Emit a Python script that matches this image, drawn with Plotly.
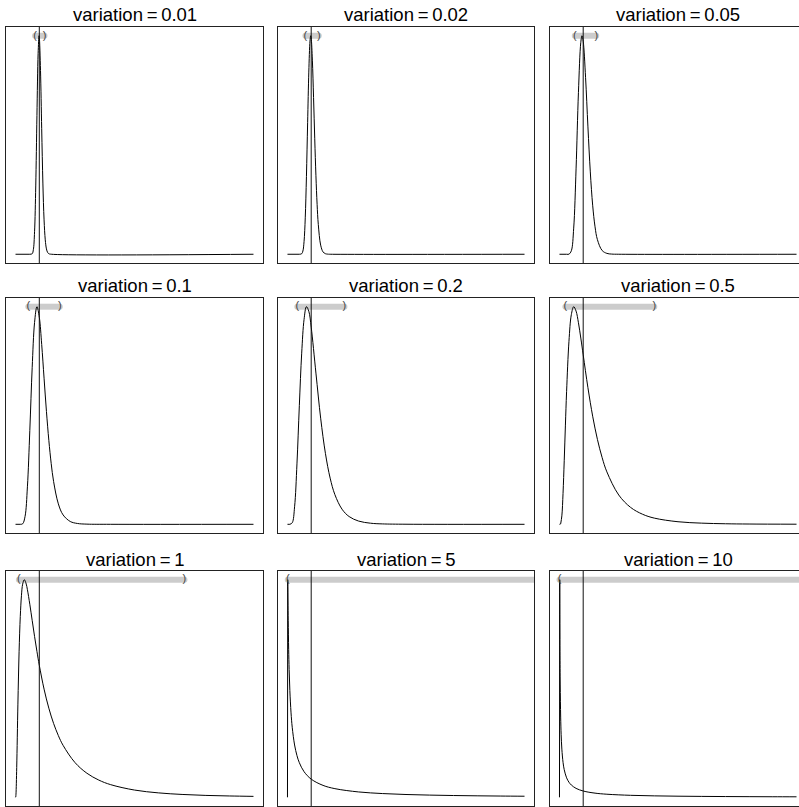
import plotly.graph_objects as go

# ---------------- data (read / estimated from the reference) ----------------
variations = ["0.01", "0.02", "0.05", "0.1", "0.2", "0.5", "1", "5", "10"]

x_v001 = [0, 0.6, 0.7, 0.75, 0.8, 0.85, 0.9, 0.95, 0.99, 1.0, 1.05, 1.1, 1.15, 1.2, 1.25, 1.3, 1.35, 1.4, 1.5, 10]
y_v001 = [0, 0, 0.0099, 0.0848, 0.4137, 1.253, 2.545, 3.682, 4.009, 3.989, 3.373, 2.303, 1.3065, 0.631, 0.2648, 0.0983, 0.0327, 0.0099, 0.0006, 0]

x_v002 = [0, 0.5, 0.6, 0.65, 0.7, 0.75, 0.8, 0.85, 0.9, 0.95, 0.98, 1.0, 1.05, 1.1, 1.15, 1.2, 1.25, 1.3, 1.4, 1.5, 1.6, 1.7, 1.8, 10]
y_v002 = [0, 0, 0.0069, 0.0419, 0.1676, 0.4751, 1.0156, 1.7148, 2.375, 2.780, 2.849, 2.821, 2.531, 2.043, 1.5054, 1.024, 0.650, 0.3882, 0.1189, 0.0308, 0.0071, 0.0015, 0.0003, 0]

x_v005 = [0, 0.3, 0.4, 0.5, 0.6, 0.7, 0.8, 0.9, 0.95, 1.0, 1.1, 1.2, 1.3, 1.4, 1.5, 1.6, 1.8, 2.0, 2.2, 2.5, 10]
y_v005 = [0, 0, 0.0010, 0.0292, 0.2189, 0.7144, 1.3555, 1.774, 1.8293, 1.7841, 1.4812, 1.0663, 0.6895, 0.4109, 0.2298, 0.1224, 0.0313, 0.0073, 0.0016, 0.0002, 0]

x_v01 = [0, 0.2, 0.3, 0.4, 0.5, 0.6, 0.7, 0.8, 0.9, 1.0, 1.1, 1.2, 1.3, 1.4, 1.5, 1.6, 1.8, 2.0, 2.3, 2.6, 3.0, 4.0, 10]
y_v01 = [0, 0, 0.0030, 0.0474, 0.2284, 0.5704, 0.9541, 1.2294, 1.3260, 1.2616, 1.0960, 0.8903, 0.6878, 0.5117, 0.3697, 0.2613, 0.1245, 0.0571, 0.0171, 0.0051, 0.0010, 0, 0]

x_v02 = [0, 0.1, 0.2, 0.3, 0.4, 0.5, 0.6, 0.7, 0.8, 0.9, 1.0, 1.2, 1.4, 1.6, 1.8, 2.0, 2.3, 2.6, 3.0, 3.5, 4.0, 5.0, 10]
y_v02 = [0, 0, 0.0069, 0.0793, 0.2734, 0.5367, 0.7743, 0.9272, 0.9845, 0.9640, 0.8921, 0.6841, 0.4801, 0.3210, 0.2089, 0.1342, 0.0685, 0.0350, 0.0146, 0.0050, 0.0018, 0.0003, 0]

x_v05 = [0, 0.05, 0.1, 0.15, 0.2, 0.25, 0.3, 0.4, 0.5, 0.6, 0.7, 0.8, 0.9, 1.0, 1.2, 1.4, 1.6, 1.8, 2.0, 2.5, 3.0, 3.5, 4.0, 5.0, 6.0, 7.0, 8.0, 10]
y_v05 = [0, 0.0014, 0.0281, 0.1028, 0.2115, 0.3302, 0.4414, 0.6092, 0.6979, 0.7244, 0.7098, 0.6710, 0.6200, 0.5642, 0.4548, 0.3599, 0.2827, 0.2219, 0.1745, 0.0975, 0.0563, 0.0336, 0.0206, 0.0085, 0.0038, 0.0018, 0.0009, 0.0003]

x_v1 = [0, 0.01, 0.02, 0.05, 0.1, 0.15, 0.2, 0.25, 0.3, 0.37, 0.45, 0.5, 0.6, 0.7, 0.8, 0.9, 1.0, 1.2, 1.4, 1.6, 1.8, 2.0, 2.5, 3.0, 3.5, 4.0, 5.0, 6.0, 7.0, 8.0, 9.0, 10]
y_v1 = [0, 0.0010, 0.0095, 0.0898, 0.2816, 0.4399, 0.5463, 0.6106, 0.6442, 0.6577, 0.6445, 0.6275, 0.5836, 0.5348, 0.4864, 0.4408, 0.3989, 0.3270, 0.2693, 0.2233, 0.1865, 0.1569, 0.1049, 0.0727, 0.0520, 0.0382, 0.0219, 0.0134, 0.0086, 0.0057, 0.0040, 0.0028]

x_v5 = [0, 0.01, 0.02, 0.03, 0.05, 0.07, 0.1, 0.15, 0.2, 0.3, 0.4, 0.5, 0.7, 1.0, 1.5, 2, 3, 4, 5, 6, 7, 8, 9, 10]
y_v5 = [0, 2.139, 1.930, 1.739, 1.4545, 1.2567, 1.050, 0.8298, 0.6885, 0.5144, 0.4101, 0.3401, 0.2517, 0.1784, 0.1170, 0.0850, 0.0527, 0.0368, 0.0275, 0.0216, 0.0175, 0.0145, 0.0122, 0.0105]

x_v10 = [0, 0.01, 0.02, 0.03, 0.05, 0.07, 0.1, 0.15, 0.2, 0.3, 0.4, 0.5, 0.7, 1.0, 1.5, 2, 3, 4, 5, 6, 7, 8, 9, 10]
y_v10 = [0, 4.369, 2.934, 2.274, 1.611, 1.2655, 0.9677, 0.7025, 0.5542, 0.3911, 0.3024, 0.2463, 0.1791, 0.1262, 0.0834, 0.0616, 0.0396, 0.0287, 0.0222, 0.0179, 0.0149, 0.0127, 0.0110, 0.0097]

# interval shown by the grey bar at the top of each panel
ci_low = [0.822, 0.758, 0.645, 0.538, 0.416, 0.250, 0.141, 0.0125, 0.0020]
ci_high = [1.217, 1.319, 1.550, 1.859, 2.402, 4.000, 7.099, 80.06, 491.0]

ref_line_x = 1.0  # vertical reference line

curves_x = [x_v001, x_v002, x_v005, x_v01, x_v02, x_v05, x_v1, x_v5, x_v10]
curves_y = [y_v001, y_v002, y_v005, y_v01, y_v02, y_v05, y_v1, y_v5, y_v10]

# ---------------- layout geometry (pixels) ----------------
W, H = 799, 807
col_px = [(6, 263), (278, 534), (550, 806)]
row_px = [(27, 263), (298, 533), (571, 806)]
XMIN, XMAX = 0.0, 10.0
PAD = 0.04
FONT = "Liberation Sans, Arial, Helvetica, sans-serif"

fig = go.Figure()
layout = dict(
    width=W, height=H, margin=dict(l=0, r=0, t=0, b=0),
    paper_bgcolor="white", plot_bgcolor="white", showlegend=False,
    hovermode=False,
)
annotations = []
shapes = []

for i, v in enumerate(variations):
    r, c = divmod(i, 3)
    n = i + 1
    xa = "x" if n == 1 else f"x{n}"
    ya = "y" if n == 1 else f"y{n}"
    xkey = "xaxis" if n == 1 else f"xaxis{n}"
    ykey = "yaxis" if n == 1 else f"yaxis{n}"

    xs, ys = curves_x[i], curves_y[i]
    ymax = max(ys)
    ymin = min(ys)
    span = XMAX - XMIN
    full_lo = XMIN - PAD * span
    full_hi = XMAX + PAD * span
    x0p, x1p = col_px[c]
    vis_right = min(x1p, W)
    per_px = (full_hi - full_lo) / (x1p - x0p)
    vis_hi = full_lo + (vis_right - x0p) * per_px
    yspan = ymax - ymin

    layout[xkey] = dict(
        domain=[x0p / W, vis_right / W], range=[full_lo, vis_hi], anchor=ya,
        showgrid=False, zeroline=False, showticklabels=False, ticks="",
        showline=True, mirror=True, linecolor="#222222", linewidth=1,
    )
    layout[ykey] = dict(
        domain=[(H - row_px[r][1]) / H, (H - row_px[r][0]) / H],
        range=[ymin - PAD * yspan, ymax + PAD * yspan], anchor=xa,
        showgrid=False, zeroline=False, showticklabels=False, ticks="",
        showline=True, mirror=(c != 2), linecolor="#222222", linewidth=1,
    )

    # grey interval bar at the top
    fig.add_trace(go.Scatter(
        x=[ci_low[i], ci_high[i]], y=[ymax, ymax], xaxis=xa, yaxis=ya,
        mode="lines+markers", line=dict(color="#cccccc", width=6),
        marker=dict(color="#cccccc", size=6), hoverinfo="skip",
    ))
    # density curve: first segment straight, remainder smoothed
    fig.add_trace(go.Scatter(
        x=xs[:2], y=ys[:2], xaxis=xa, yaxis=ya, mode="lines",
        line=dict(color="black", width=1), hoverinfo="skip",
    ))
    fig.add_trace(go.Scatter(
        x=xs[1:], y=ys[1:], xaxis=xa, yaxis=ya, mode="lines",
        line=dict(color="black", width=1, shape="spline", smoothing=1.0),
        hoverinfo="skip",
    ))
    # parentheses at the interval ends (only those inside the visible range)
    px_, pt_ = [], []
    for xv, tv in ((ci_low[i], "("), (ci_high[i], ")")):
        if full_lo <= xv <= vis_hi:
            px_.append(xv)
            pt_.append(tv)
    if px_:
        fig.add_trace(go.Scatter(
            x=px_, y=[ymax] * len(px_), xaxis=xa, yaxis=ya,
            mode="text", text=pt_, textposition="middle center",
            textfont=dict(size=11, color="#444444", family=FONT),
            hoverinfo="skip",
        ))
    # vertical reference line
    shapes.append(dict(
        type="line", xref=xa, yref=f"{ya} domain", x0=ref_line_x, x1=ref_line_x,
        y0=0, y1=1, line=dict(color="#111111", width=1),
    ))
    # panel title
    cx = (x0p + x1p) / 2.0
    annotations.append(dict(
        text=f"variation\u2009=\u2009{v}", xref="paper", yref="paper",
        x=cx / W, y=(H - (row_px[r][0] - 12)) / H, xanchor="center", yanchor="middle",
        showarrow=False,
        font=dict(size=18.5, color="black", family=FONT),
    ))

layout["annotations"] = annotations
layout["shapes"] = shapes
fig.update_layout(**layout)
fig.write_html("out.html")
